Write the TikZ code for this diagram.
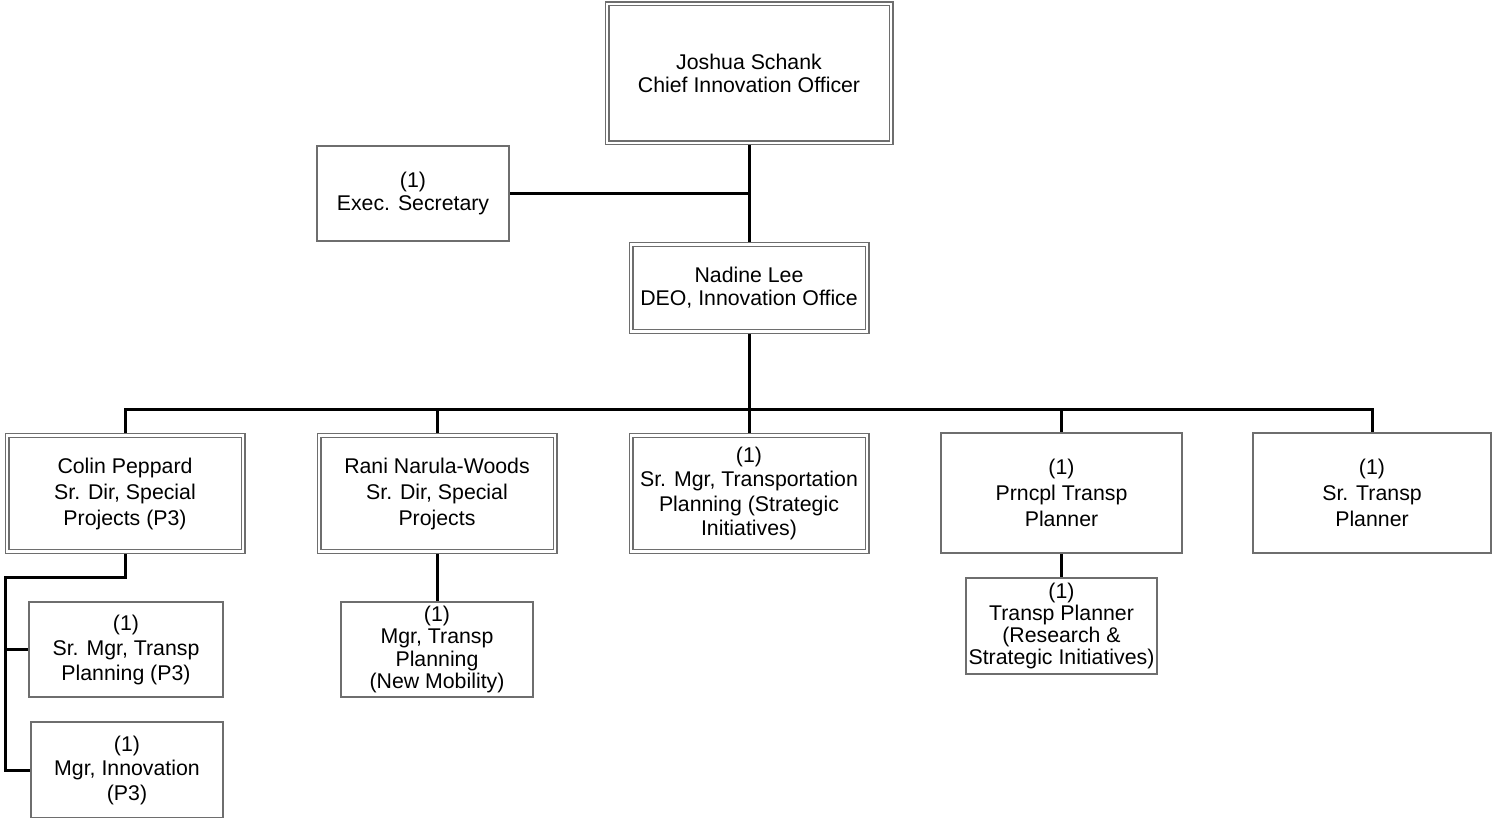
\documentclass[tikz,border=0pt]{standalone}
\usepackage{fontspec}
\setmainfont{Liberation Sans}
\usetikzlibrary{backgrounds}
\definecolor{boxgray}{RGB}{110,110,110}
\tikzset{
  box/.style={draw=boxgray, line width=1.3pt, fill=white, inner sep=0pt, outer sep=0pt,
    align=center, font=\fontsize{21.3}{23}\selectfont,
    execute at begin node={\rule{0pt}{23pt}}},
  dbox/.style={box, double=white, double distance=2.6pt, line width=1.2pt},
  conn/.style={line width=3pt, black},
  ls/.style={font=\fontsize{21.3}{#1}\selectfont}
}
\begin{document}
\begin{tikzpicture}[x=1pt,y=-1pt]
\useasboundingbox (0,0) rectangle (1492,818);
\node[dbox, minimum width=284pt, minimum height=139pt] (ceo) at (749,73.5) {Joshua Schank\\Chief Innovation Officer};
\node[box, minimum width=192pt, minimum height=95pt] (sec) at (413,193.5) {(1)\\Exec. Secretary};
\node[dbox, minimum width=236pt, minimum height=87pt] (deo) at (749,288) {Nadine Lee\\DEO, Innovation Office};
\node[dbox, ls=26, minimum width=236pt, minimum height=116pt] (colin) at (125,493.5) {Colin Peppard\\Sr. Dir, Special\\Projects (P3)};
\node[dbox, ls=26, minimum width=236pt, minimum height=116pt] (rani) at (437,493.5) {Rani Narula-Woods\\Sr. Dir, Special\\Projects};
\node[dbox, ls=24.5, minimum width=236pt, minimum height=116pt] (srmgr) at (749,493.5) {(1)\\Sr. Mgr, Transportation\\Planning (Strategic\\Initiatives)};
\node[box, ls=26, minimum width=241pt, minimum height=120pt] (prn) at (1061.5,493) {(1)\\Prncpl Transp\\Planner};
\node[box, ls=26, minimum width=238pt, minimum height=120pt] (srtp) at (1372,493) {(1)\\Sr. Transp\\Planner};
\node[box, ls=25, minimum width=194pt, minimum height=95pt] (suba) at (126,649.5) {(1)\\Sr. Mgr, Transp\\Planning (P3)};
\node[box, ls=24.5, minimum width=192pt, minimum height=96pt] (subb) at (127,770) {(1)\\Mgr, Innovation\\(P3)};
\node[box, ls=22.5, minimum width=192pt, minimum height=95pt] (ranisub) at (437,649.5) {(1)\\Mgr, Transp\\Planning\\(New Mobility)};
\node[box, ls=22, minimum width=191pt, minimum height=96pt] (prnsub) at (1061.5,626) {(1)\\Transp Planner\\(Research \&\\Strategic Initiatives)};
\coordinate (bus) at (749,409);
\coordinate (cp) at (5,577);
\begin{scope}[on background layer]
\draw[conn] (ceo.south) -- (deo.north);
\draw[conn] (sec.east) -- (sec.east -| ceo.south);
\draw[conn] (deo.south) -- (bus);
\draw[conn] (colin.north) -- (colin.north |- bus) -- (srtp.north |- bus) -- (srtp.north);
\draw[conn] (rani.north |- bus) -- (rani.north);
\draw[conn] (srmgr.north |- bus) -- (srmgr.north);
\draw[conn] (prn.north |- bus) -- (prn.north);
\draw[conn] (colin.south) -- (colin.south |- cp) -- (cp) -- (cp |- subb.west) -- (subb.west);
\draw[conn] (cp |- suba.west) -- (suba.west);
\draw[conn] (rani.south) -- (ranisub.north);
\draw[conn] (prn.south) -- (prnsub.north);
\end{scope}
\end{tikzpicture}
\end{document}
